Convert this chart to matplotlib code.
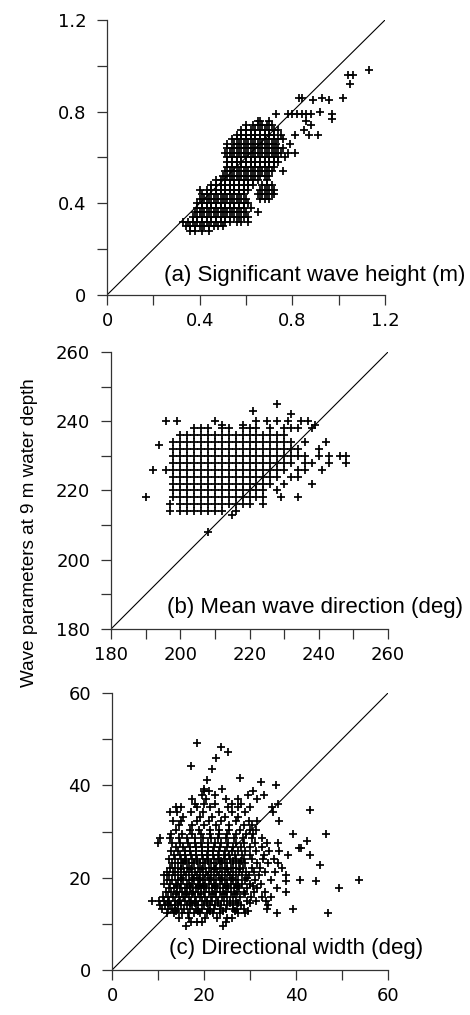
import matplotlib
matplotlib.use("Agg")
import matplotlib.pyplot as plt

plt.rcParams["font.family"] = ["Liberation Sans", "DejaVu Sans"]

# (a) significant wave height: rows of (y, [x, ...])
hs_rows = [
    (0.28, [0.36, 0.38, 0.41, 0.44]),
    (0.30, [0.34, 0.36, 0.38, 0.40, 0.42, 0.44, 0.46, 0.48, 0.50]),
    (0.32, [0.33, 0.35, 0.37, 0.39, 0.41, 0.43, 0.45, 0.47, 0.49, 0.51, 0.53, 0.56, 0.58, 0.61]),
    (0.34, [0.37, 0.39, 0.41, 0.43, 0.45, 0.47, 0.49, 0.51, 0.53, 0.55, 0.57, 0.59, 0.61]),
    (0.36, [0.38, 0.40, 0.42, 0.44, 0.46, 0.48, 0.50, 0.52, 0.54, 0.56, 0.58, 0.60, 0.65]),
    (0.38, [0.39, 0.41, 0.43, 0.45, 0.47, 0.49, 0.51, 0.53, 0.55, 0.57, 0.59, 0.62]),
    (0.40, [0.39, 0.41, 0.43, 0.45, 0.47, 0.49, 0.51, 0.53, 0.55, 0.57, 0.59, 0.61]),
    (0.42, [0.40, 0.42, 0.44, 0.46, 0.48, 0.50, 0.52, 0.54, 0.56, 0.58, 0.60, 0.66, 0.68, 0.70]),
    (0.44, [0.41, 0.43, 0.45, 0.47, 0.49, 0.51, 0.53, 0.55, 0.57, 0.59, 0.65, 0.67, 0.69, 0.71, 0.72]),
    (0.46, [0.40, 0.43, 0.45, 0.47, 0.49, 0.51, 0.53, 0.55, 0.57, 0.59, 0.61, 0.66, 0.68, 0.70, 0.72]),
    (0.48, [0.45, 0.47, 0.49, 0.51, 0.53, 0.55, 0.57, 0.59, 0.61, 0.63, 0.67, 0.69, 0.71]),
    (0.50, [0.47, 0.49, 0.51, 0.53, 0.55, 0.57, 0.59, 0.61, 0.63, 0.65, 0.69]),
    (0.52, [0.50, 0.52, 0.54, 0.56, 0.58, 0.60, 0.62, 0.64, 0.66, 0.68, 0.70]),
    (0.54, [0.51, 0.53, 0.55, 0.57, 0.59, 0.61, 0.63, 0.65, 0.67, 0.69, 0.71, 0.76]),
    (0.56, [0.52, 0.54, 0.56, 0.58, 0.60, 0.62, 0.64, 0.66, 0.68, 0.70, 0.72]),
    (0.58, [0.52, 0.54, 0.56, 0.58, 0.60, 0.62, 0.64, 0.66, 0.68, 0.70, 0.72, 0.74]),
    (0.60, [0.52, 0.54, 0.56, 0.58, 0.60, 0.62, 0.64, 0.66, 0.68, 0.70, 0.72, 0.74, 0.77]),
    (0.62, [0.51, 0.53, 0.55, 0.57, 0.59, 0.61, 0.63, 0.65, 0.67, 0.69, 0.71, 0.73, 0.75, 0.78, 0.81]),
    (0.64, [0.52, 0.54, 0.56, 0.58, 0.60, 0.62, 0.64, 0.66, 0.68, 0.70, 0.72, 0.74, 0.76]),
    (0.66, [0.52, 0.55, 0.57, 0.59, 0.61, 0.63, 0.65, 0.67, 0.69, 0.71, 0.73, 0.79]),
    (0.68, [0.54, 0.56, 0.58, 0.60, 0.62, 0.64, 0.66, 0.68, 0.70, 0.72, 0.74, 0.76]),
    (0.70, [0.56, 0.58, 0.60, 0.62, 0.64, 0.66, 0.68, 0.70, 0.72, 0.75, 0.81, 0.87, 0.91]),
    (0.72, [0.58, 0.60, 0.62, 0.64, 0.66, 0.68, 0.70, 0.72, 0.74, 0.85]),
    (0.74, [0.60, 0.63, 0.65, 0.67, 0.69, 0.71, 0.88]),
    (0.76, [0.65, 0.66, 0.70, 0.86]),
    (0.77, [0.97]),
    (0.79, [0.73, 0.78, 0.80, 0.82, 0.84, 0.86, 0.88, 0.97]),
    (0.80, [0.92]),
    (0.85, [0.89, 0.96]),
    (0.86, [0.83, 0.84, 0.93, 1.02]),
    (0.92, [1.05]),
    (0.96, [1.04, 1.06]),
    (0.98, [1.13]),
]

# (b) mean wave direction
dir_rows = [
    (245, [228]),
    (243, [221]),
    (242, [232]),
    (240, [196, 199, 210, 222, 225, 228, 231, 235, 237]),
    (239, [212, 218, 239]),
    (238, [204, 206, 208, 212, 214, 218, 220, 222, 226, 230, 232, 234, 238]),
    (236, [200, 202, 204, 206, 208, 210, 212, 214, 216, 218, 220, 222, 224, 226, 228, 230]),
    (234, [198, 200, 202, 204, 206, 208, 210, 212, 214, 216, 218, 220, 222, 224, 226, 228, 230, 232, 236, 242]),
    (233, [194]),
    (232, [198, 200, 202, 204, 206, 208, 210, 212, 214, 216, 218, 220, 222, 224, 226, 228, 230, 232, 234, 240]),
    (230, [198, 200, 202, 204, 206, 208, 210, 212, 214, 216, 218, 220, 222, 224, 226, 228, 230, 232, 234, 236, 240, 243, 246, 248]),
    (228, [198, 200, 202, 204, 206, 208, 210, 212, 214, 216, 218, 220, 222, 224, 226, 228, 230, 232, 236, 238, 243, 248]),
    (226, [192, 196, 198, 200, 202, 204, 206, 208, 210, 212, 214, 216, 218, 220, 222, 224, 226, 228, 230, 234, 236, 241]),
    (224, [198, 200, 202, 204, 206, 208, 210, 212, 214, 216, 218, 220, 222, 224, 226, 228, 232, 234]),
    (222, [198, 200, 202, 204, 206, 208, 210, 212, 214, 216, 218, 220, 222, 224, 226, 230, 238]),
    (220, [198, 200, 202, 204, 206, 208, 210, 212, 214, 216, 218, 220, 222, 224, 228]),
    (218, [190, 198, 200, 202, 204, 206, 208, 210, 212, 214, 216, 218, 220, 222, 224, 229, 234]),
    (216, [197, 200, 202, 204, 206, 208, 210, 212, 214, 216, 218, 220, 224]),
    (214, [197, 200, 202, 204, 206, 208, 210, 212, 216]),
    (213, [215]),
    (208, [208]),
]

# (c) directional width
width_rows = [
    (9.5, [16.1, 24.2]),
    (10.5, [17.2, 18.4, 19.5, 24.8]),
    (11.3, [14.5, 16.8, 20.3, 22.8, 25.0, 26.1]),
    (12.3, [12.0, 13.4, 15.2, 16.6, 17.9, 19.1, 20.7, 21.9, 23.4, 27.5, 29.0, 35.8, 46.9]),
    (12.8, [14.0, 18.8, 21.4, 24.1, 26.8, 29.6]),
    (13.2, [10.9, 12.1, 13.0, 14.4, 15.7, 16.9, 18.2, 19.6, 20.9, 22.1, 23.5, 24.8, 26.3, 27.2, 28.6, 33.8, 39.3]),
    (14.1, [10.5, 11.5, 12.6, 13.8, 15.0, 16.3, 17.5, 18.7, 19.9, 21.2, 22.4, 23.7, 25.0, 26.4, 28.0, 34.0]),
    (14.6, [12.1, 14.3, 16.9, 18.1, 20.6, 23.1, 25.7, 27.4, 29.9]),
    (15.0, [8.7, 10.2, 11.3, 12.4, 13.6, 14.7, 15.9, 17.1, 18.3, 19.5, 20.6, 21.8, 23.0, 24.3, 25.6, 27.0, 29.3, 31.2, 33.5]),
    (15.9, [11.0, 12.2, 13.3, 14.5, 15.6, 16.8, 18.0, 19.1, 20.3, 21.5, 22.7, 23.9, 25.1, 26.3, 27.8, 30.2, 32.6, 34.5]),
    (16.4, [13.9, 16.0, 17.3, 19.4, 21.9, 24.4, 26.8, 29.0]),
    (16.8, [11.8, 12.9, 14.1, 15.2, 16.4, 17.6, 18.7, 19.9, 21.1, 22.3, 23.5, 24.7, 25.9, 27.1, 28.6, 30.8, 33.2, 37.9]),
    (17.7, [12.4, 13.5, 14.7, 15.8, 17.0, 18.2, 19.3, 20.5, 21.7, 22.9, 24.1, 25.3, 26.5, 27.7, 29.4, 31.6, 35.9, 49.4]),
    (18.2, [14.2, 16.9, 19.0, 20.0, 22.5, 24.9, 27.3, 30.6]),
    (18.6, [11.4, 12.7, 13.9, 15.1, 16.3, 17.4, 18.6, 19.8, 21.0, 22.2, 23.4, 24.6, 25.8, 27.0, 28.2, 30.0, 32.4]),
    (19.2, [37.8, 44.3]),
    (19.6, [11.9, 13.1, 14.3, 15.5, 16.7, 17.9, 19.1, 20.3, 21.5, 22.7, 23.9, 25.1, 26.3, 27.5, 28.9, 31.1, 34.6, 40.8, 53.7]),
    (20.0, [15.0, 17.6, 18.9, 21.3, 23.6, 26.0, 29.4]),
    (20.5, [11.2, 12.5, 13.7, 14.9, 16.1, 17.3, 18.5, 19.7, 20.9, 22.1, 23.3, 24.5, 25.7, 26.9, 28.3, 29.8, 32.0, 37.8]),
    (21.3, [12.0, 13.2, 14.4, 15.6, 16.8, 18.0, 19.2, 20.4, 21.6, 22.8, 24.0, 25.2, 26.4, 27.6, 29.1, 30.9, 33.3, 35.5]),
    (21.8, [14.9, 17.1, 19.6, 22.4, 24.9, 27.8]),
    (22.2, [12.6, 13.8, 15.0, 16.2, 17.4, 18.6, 19.8, 21.0, 22.2, 23.4, 24.6, 25.8, 27.0, 28.4, 30.4, 32.2, 36.9]),
    (22.7, [45.2]),
    (23.1, [13.1, 14.3, 15.5, 16.7, 17.9, 19.1, 20.3, 21.5, 22.7, 23.9, 25.1, 26.3, 27.6, 29.0, 31.5, 34.0, 36.1]),
    (23.6, [15.8, 18.4, 20.9, 23.6, 26.2, 28.1]),
    (24.0, [12.4, 13.7, 14.9, 16.1, 17.3, 18.5, 19.7, 20.9, 22.1, 23.3, 24.5, 25.7, 27.0, 28.6, 30.5, 32.8, 35.2]),
    (24.9, [13.5, 14.7, 15.9, 17.1, 18.3, 19.5, 20.7, 21.9, 23.1, 24.3, 25.5, 26.8, 28.2, 30.1, 33.0, 38.3, 43.0]),
    (25.8, [12.8, 14.4, 15.8, 17.0, 18.3, 19.6, 20.8, 22.0, 23.3, 24.6, 26.0, 27.4, 29.0, 31.2, 34.1, 36.4]),
    (26.4, [40.7, 41.1]),
    (26.7, [14.0, 15.5, 16.9, 18.2, 19.5, 20.8, 22.1, 23.5, 24.9, 26.4, 28.0, 30.0, 32.6]),
    (27.6, [10.1, 13.0, 14.8, 16.5, 18.0, 19.4, 20.8, 22.3, 23.8, 25.3, 26.9, 28.7, 31.0, 33.8, 36.0]),
    (28.0, [42.3]),
    (28.5, [10.4, 12.6, 14.5, 16.4, 18.1, 19.8, 21.5, 23.1, 24.8, 26.6, 28.4, 30.5, 32.6]),
    (29.4, [12.8, 15.2, 17.4, 19.4, 21.3, 23.2, 25.1, 27.0, 29.2, 30.6, 39.3, 46.6]),
    (30.4, [13.9, 16.9, 19.0, 21.2, 23.3, 25.5, 27.8, 29.9, 31.3]),
    (31.4, [14.6, 17.4, 20.0, 22.6, 25.5, 28.6, 30.5]),
    (32.2, [13.3, 15.0, 18.5, 21.0, 23.8, 26.9, 29.8, 31.6, 36.4]),
    (33.2, [15.5, 19.2, 21.8, 24.6, 27.3]),
    (34.2, [12.7, 14.1, 17.2, 19.8, 23.2, 26.0, 29.0, 35.0]),
    (34.6, [43.0]),
    (35.3, [13.9, 15.0, 18.5, 21.3, 25.2, 27.4, 30.0, 34.8]),
    (36.0, [18.0, 20.0, 22.3, 26.1, 28.0, 36.0]),
    (37.0, [17.4, 20.4, 24.8, 27.5, 31.5]),
    (37.9, [19.6, 22.5, 29.6, 33.0]),
    (38.8, [19.9, 21.0, 30.7]),
    (39.3, [20.0, 23.9]),
    (40.0, [35.6]),
    (40.7, [32.5]),
    (41.1, [20.6]),
    (41.7, [27.8]),
    (43.6, [21.7]),
    (44.3, [17.1]),
    (46.0, [22.6]),
    (47.2, [25.2]),
    (48.3, [23.6]),
    (49.2, [18.4]),
]

hs_ticks = [0, 0.4, 0.8, 1.2]
hs_labels = ["0", "0.4", "0.8", "1.2"]
dir_ticks = [180, 200, 220, 240, 260]
dir_labels = ["180", "200", "220", "240", "260"]
width_ticks = [0, 20, 40, 60]
width_labels = ["0", "20", "40", "60"]

panels = [
    (hs_rows, hs_ticks, hs_labels, "(a) Significant wave height (m)"),
    (dir_rows, dir_ticks, dir_labels, "(b) Mean wave direction (deg)"),
    (width_rows, width_ticks, width_labels, "(c) Directional width (deg)"),
]

# axes boxes in figure fractions, plus where the caption ends (axes fraction)
boxes = [
    ([0.2277, 0.7094, 0.5915, 0.2709], 1.288, 0.071),
    ([0.2362, 0.3803, 0.5894, 0.2729], 1.271, 0.076),
    ([0.2383, 0.0443, 0.5872, 0.2729], 1.127, 0.079),
]

tick_font = ["DejaVu Sans"]

fig = plt.figure(figsize=(4.7, 10.15), dpi=100)

for (rows, ticks, labels, caption), (box, cap_x, cap_y) in zip(panels, boxes):
    ax = fig.add_axes(box)
    xs = [x for y, row in rows for x in row]
    ys = [y for y, row in rows for x in row]
    lim = (ticks[0], ticks[-1])
    ax.plot(lim, lim, color="k", lw=0.8, zorder=1)
    ax.plot(xs, ys, "+", color="k", ms=6, mew=1.25, zorder=2)
    ax.set_xlim(lim)
    ax.set_ylim(lim)
    ax.set_xticks(ticks, labels, family=tick_font, fontsize=13)
    ax.set_yticks(ticks, labels, family=tick_font, fontsize=13)
    mids = [(a + b) / 2 for a, b in zip(ticks[:-1], ticks[1:])]
    ax.set_xticks(mids, minor=True)
    ax.set_yticks(mids, minor=True)
    ax.tick_params(which="both", direction="out", length=7, width=0.9, color="#333333")
    ax.tick_params(axis="x", pad=5)
    ax.tick_params(axis="y", pad=8)
    for side in ["top", "right"]:
        ax.spines[side].set_visible(False)
    for side in ["left", "bottom"]:
        ax.spines[side].set_linewidth(0.9)
        ax.spines[side].set_color("#333333")
    ax.text(cap_x, cap_y, caption, transform=ax.transAxes, ha="right", va="center",
            fontsize=16, clip_on=False)

fig.text(0.062, 0.475, "Wave parameters at 9 m water depth", rotation=90,
         ha="center", va="center", fontsize=13.6)

fig.savefig("out.png", dpi=100)
